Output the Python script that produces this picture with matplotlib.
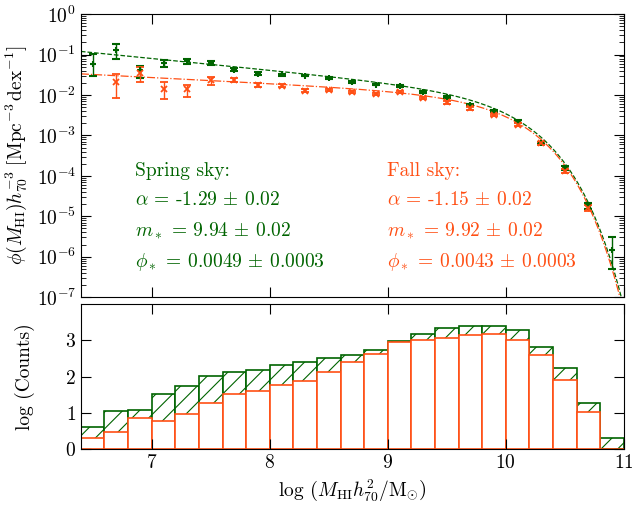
import numpy as np
import matplotlib
matplotlib.use('Agg')
from matplotlib import pyplot as plt
from matplotlib import ticker

plt.rcParams['font.family'] = 'serif'
plt.rcParams['font.serif'] = ['cmr10']
plt.rcParams['mathtext.fontset'] = 'cm'
plt.rcParams['axes.formatter.use_mathtext'] = True
plt.rcParams['hatch.linewidth'] = 0.8

green = '#006400'
orange = '#ff4f14'

# bins of log(M_HI), width 0.2
bin_edges = np.round(np.arange(6.4, 11.01, 0.2), 2)
bin_mid = bin_edges[:-1] + 0.1

# log10 of counts per bin
spring_counts = [0.61, 1.04, 1.09, 1.51, 1.74, 2.03, 2.12, 2.17, 2.31, 2.41, 2.51, 2.59,
                 2.74, 2.97, 3.18, 3.33, 3.39, 3.41, 3.29, 2.83, 2.23, 1.28, 0.30]
fall_counts = [0.30, 0.48, 0.85, 0.78, 0.96, 1.28, 1.51, 1.59, 1.77, 1.88, 2.13, 2.40,
               2.63, 2.95, 3.00, 3.08, 3.14, 3.17, 3.01, 2.59, 1.90, 1.03, 0.0]

# log10 phi and errors (dex, lower / upper)
spring_phi = [-1.22, -0.89, -1.39, -1.20, -1.16, -1.20, -1.37, -1.47, -1.49, -1.52, -1.58, -1.68,
              -1.74, -1.77, -1.92, -2.05, -2.24, -2.40, -2.66, -3.19, -3.80, -4.73, -5.84]
spring_lo = [0.31, 0.22, 0.20, 0.10, 0.06, 0.05, 0.04, 0.03, 0.03, 0.02, 0.02, 0.02,
             0.02, 0.02, 0.02, 0.02, 0.02, 0.02, 0.03, 0.03, 0.05, 0.08, 0.46]
spring_hi = [0.23, 0.15, 0.12, 0.06, 0.05, 0.04, 0.03, 0.03, 0.02, 0.02, 0.02, 0.02,
             0.02, 0.02, 0.02, 0.02, 0.02, 0.02, 0.03, 0.03, 0.04, 0.07, 0.33]

fall_phi = [np.nan, -1.68, -1.45, -1.84, -1.86, -1.63, -1.62, -1.74, -1.77, -1.89, -1.88, -1.92,
            -1.97, -1.92, -2.07, -2.18, -2.33, -2.50, -2.73, -3.19, -3.88, -4.79, np.nan]
fall_lo = [0, 0.40, 0.24, 0.25, 0.20, 0.12, 0.06, 0.05, 0.04, 0.04, 0.03, 0.03,
           0.03, 0.03, 0.03, 0.03, 0.03, 0.03, 0.03, 0.04, 0.06, 0.09, 0]
fall_hi = [0, 0.19, 0.15, 0.16, 0.12, 0.07, 0.05, 0.04, 0.04, 0.03, 0.03, 0.03,
           0.03, 0.03, 0.03, 0.03, 0.03, 0.03, 0.03, 0.04, 0.05, 0.08, 0]

# Schechter fit parameters: alpha, m_star, phi_star
spring_fit = (-1.29, 9.94, 0.0049)
fall_fit = (-1.15, 9.92, 0.0043)


def schechter(m, alpha, mstar, phistar):
    x = 10 ** (m - mstar)
    return np.log(10) * phistar * x ** (alpha + 1) * np.exp(-x)


def errs(phi, lo, hi):
    phi = np.array(phi)
    y = 10 ** phi
    return y, [y - 10 ** (phi - np.array(lo)), 10 ** (phi + np.array(hi)) - y]


fig = plt.figure(figsize=(6.32, 5.07), dpi=100)
ax1 = fig.add_axes([0.128, 0.414, 0.859, 0.558])
ax2 = fig.add_axes([0.128, 0.1144, 0.859, 0.2856])

mm = np.linspace(6.4, 11.0, 400)
ax1.plot(mm, schechter(mm, *spring_fit), '--', color=green, lw=0.9)
ax1.plot(mm, schechter(mm, *fall_fit), '-.', color=orange, lw=0.9)

y, e = errs(spring_phi, spring_lo, spring_hi)
ax1.errorbar(bin_mid, y, yerr=e, fmt='+', color=green, ms=5, mew=1.5,
             elinewidth=1, capsize=3, capthick=1)
y, e = errs(fall_phi, fall_lo, fall_hi)
ax1.errorbar(bin_mid, y, yerr=e, fmt='x', color=orange, ms=4, mew=1.3,
             elinewidth=1, capsize=3, capthick=1)

ax1.set_yscale('log')
ax1.set_ylim(1e-7, 1)
ax1.yaxis.set_major_locator(ticker.LogLocator(base=10, numticks=20))
ax1.yaxis.set_minor_locator(ticker.LogLocator(base=10, subs=np.arange(2, 10), numticks=20))
ax1.yaxis.set_minor_formatter(ticker.NullFormatter())
ax1.set_xlim(6.4, 11)
ax1.set_xticks([7, 8, 9, 10, 11])
ax1.set_xticklabels([])
ax1.set_ylabel(r'$\phi(M_{\rm HI})h_{70}^{-3}\ [{\rm Mpc}^{-3}\,{\rm dex}^{-1}]$', fontsize=14)

fs = 14
ax1.text(0.0995, 0.445, 'Spring sky:', color=green, fontsize=fs, transform=ax1.transAxes, va='center')
ax1.text(0.0995, 0.343, r'$\alpha$ = -%.2f $\pm$ 0.02' % -spring_fit[0], color=green, fontsize=fs,
         transform=ax1.transAxes, va='center')
ax1.text(0.0995, 0.233, r'$m_*$ = %.2f $\pm$ 0.02' % spring_fit[1], color=green, fontsize=fs,
         transform=ax1.transAxes, va='center')
ax1.text(0.0995, 0.124, r'$\phi_*$ = %.4f $\pm$ 0.0003' % spring_fit[2], color=green, fontsize=fs,
         transform=ax1.transAxes, va='center')
ax1.text(0.5635, 0.445, 'Fall sky:', color=orange, fontsize=fs, transform=ax1.transAxes, va='center')
ax1.text(0.5635, 0.343, r'$\alpha$ = -%.2f $\pm$ 0.02' % -fall_fit[0], color=orange, fontsize=fs,
         transform=ax1.transAxes, va='center')
ax1.text(0.5635, 0.233, r'$m_*$ = %.2f $\pm$ 0.02' % fall_fit[1], color=orange, fontsize=fs,
         transform=ax1.transAxes, va='center')
ax1.text(0.5635, 0.124, r'$\phi_*$ = %.4f $\pm$ 0.0003' % fall_fit[2], color=orange, fontsize=fs,
         transform=ax1.transAxes, va='center')

# histograms
ax2.bar(bin_edges[:-1], spring_counts, width=0.2, align='edge', facecolor='white',
        edgecolor=green, hatch='//', lw=1.2)
ax2.bar(bin_edges[:-1], fall_counts, width=0.2, align='edge', facecolor='white',
        edgecolor=orange, lw=1.2)
ax2.set_xlim(6.4, 11)
ax2.set_ylim(0, 4)
ax2.set_yticks([0, 1, 2, 3])
ax2.set_xticks([7, 8, 9, 10, 11])
ax2.set_ylabel('log (Counts)', fontsize=14)
ax2.set_xlabel(r'log $\left(M_{\rm HI}h_{70}^2/{\rm M}_{\odot}\right)$', fontsize=14)

for ax in (ax1, ax2):
    ax.tick_params(which='both', direction='in', top=True, right=True, labelsize=14)
    ax.tick_params(which='major', length=7)
    ax.tick_params(which='minor', length=3.5)
ax1.yaxis.set_label_coords(-0.095, 0.5)
ax2.yaxis.set_label_coords(-0.085, 0.5)

fig.savefig('out.png', dpi=100)
